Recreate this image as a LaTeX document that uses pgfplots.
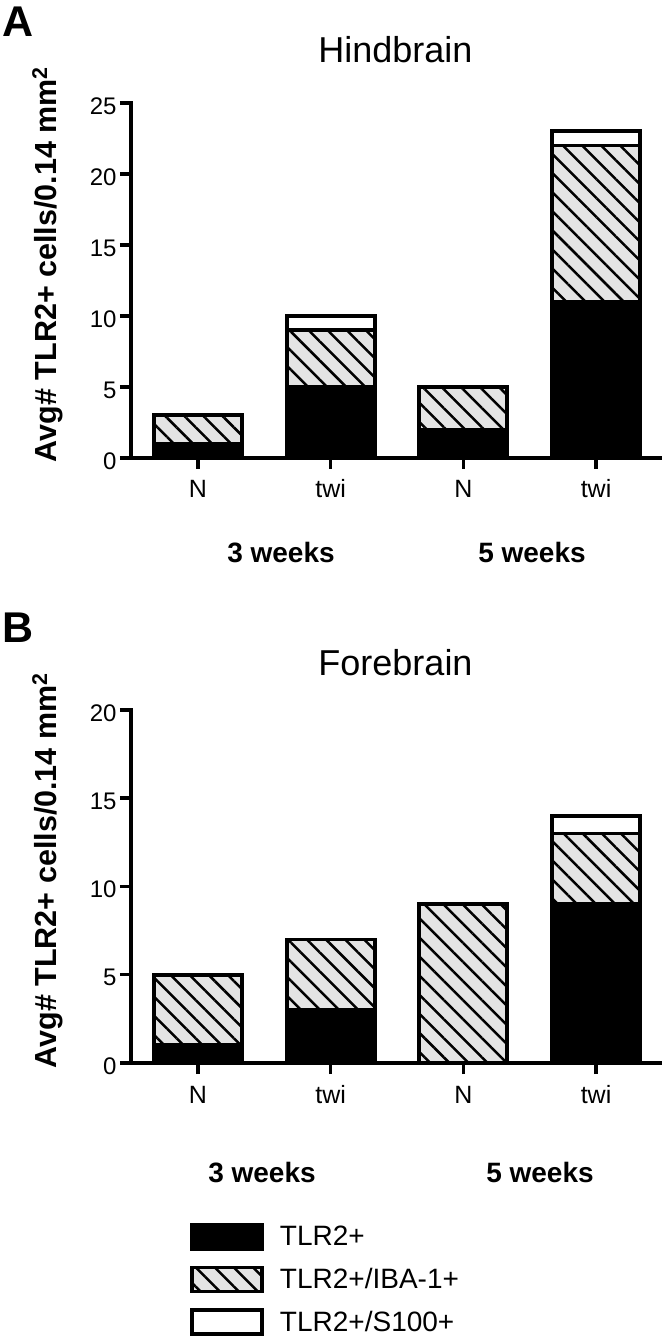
\documentclass[border=0pt]{standalone}
\usepackage{fontspec}
\setmainfont{Liberation Sans}
\usepackage{pgfplots}
\pgfplotsset{compat=1.18}
\usetikzlibrary{patterns.meta}
\definecolor{hatchgray}{RGB}{228,228,228}

\pgfplotsset{
  myaxis/.style={
    scale only axis, width=529pt, anchor=south west,
    xmin=-0.505, xmax=3.482, ymin=0,
    ybar stacked, bar width=88pt,
    axis x line*=bottom, axis y line*=left,
    axis line style={line width=4.2pt, line cap=rect},
    xtick={0,1,2,3}, xticklabels={N,twi,N,twi},
    tick align=outside, major tick length=11pt,
    tick style={line width=3.5pt, black},
    xticklabel style={font=\fontsize{25}{25}\selectfont, anchor=base, yshift=-29pt},
    yticklabel style={font=\fontsize{24}{24}\selectfont, yshift=-3pt},
    /pgf/number format/assume math mode=true,
    clip=false,
    ylabel={Avg\# TLR2+ cells/0.14 mm\textsuperscript{2}},
    ylabel style={font=\fontsize{30.5}{30.5}\selectfont\bfseries, at={(axis description cs:-0.158,0.545)}, anchor=center},
    every axis plot post/.append style={legend image code/.code={\draw[##1] (0pt,-12pt) rectangle (70pt,12pt); \path (84pt,0pt);}},
  },
  blackseg/.style={fill=black, draw=black, line width=3.8pt},
  hatchseg/.style={draw=black, line width=3.8pt, preaction={fill=hatchgray}, pattern={Lines[angle=-45,distance=13.5pt,line width=2.5pt]}},
  whiteseg/.style={fill=white, draw=black, line width=3.8pt},
}

\begin{document}
\begin{tikzpicture}
\path[use as bounding box] (0pt,0pt) rectangle (664pt,1339pt);

% Panel A
\node[anchor=base west, inner sep=0pt, font=\fontsize{43}{43}\selectfont\bfseries] at (2pt,1302pt) {A};
\begin{axis}[myaxis,
  at={(131pt,881pt)}, height=355pt, ymax=25, ytick={0,5,10,15,20,25},
  title={Hindbrain},
  title style={font=\fontsize{36}{36}\selectfont, anchor=base, at={(axis description cs:0.5,1)}, yshift=34pt},
]
\addplot[blackseg] coordinates {(0,1) (1,5) (2,2) (3,11)};
\addplot[hatchseg] coordinates {(0,2) (1,4) (2,3) (3,11)};
\addplot[whiteseg] coordinates {(0,0) (1,1) (2,0) (3,1)};
\end{axis}
\node[anchor=base, inner sep=0pt, font=\fontsize{28}{28}\selectfont\bfseries] at (281pt,776pt) {3 weeks};
\node[anchor=base, inner sep=0pt, font=\fontsize{28}{28}\selectfont\bfseries] at (532pt,776pt) {5 weeks};

% Panel B
\node[anchor=base west, inner sep=0pt, font=\fontsize{43}{43}\selectfont\bfseries] at (2pt,696pt) {B};
\begin{axis}[myaxis,
  at={(131pt,276pt)}, height=353pt, ymax=20, ytick={0,5,10,15,20},
  title={Forebrain},
  title style={font=\fontsize{36}{36}\selectfont, anchor=base, at={(axis description cs:0.5,1)}, yshift=28pt},
  legend style={at={(axis description cs:0.1115,-0.452)}, anchor=north west, draw=none, fill=none,
    font=\fontsize{28}{28}\selectfont, row sep=15pt, inner sep=0pt, nodes={inner sep=2pt}},
  legend cell align=left,
]
\addplot[blackseg] coordinates {(0,1) (1,3) (2,0) (3,9)};
\addlegendentry{TLR2+}
\addplot[hatchseg] coordinates {(0,4) (1,4) (2,9) (3,4)};
\addlegendentry{TLR2+/IBA-1+}
\addplot[whiteseg] coordinates {(0,0) (1,0) (2,0) (3,1)};
\addlegendentry{TLR2+/S100+}
\end{axis}
\node[anchor=base, inner sep=0pt, font=\fontsize{28}{28}\selectfont\bfseries] at (262pt,156pt) {3 weeks};
\node[anchor=base, inner sep=0pt, font=\fontsize{28}{28}\selectfont\bfseries] at (540pt,156pt) {5 weeks};
\end{tikzpicture}
\end{document}
